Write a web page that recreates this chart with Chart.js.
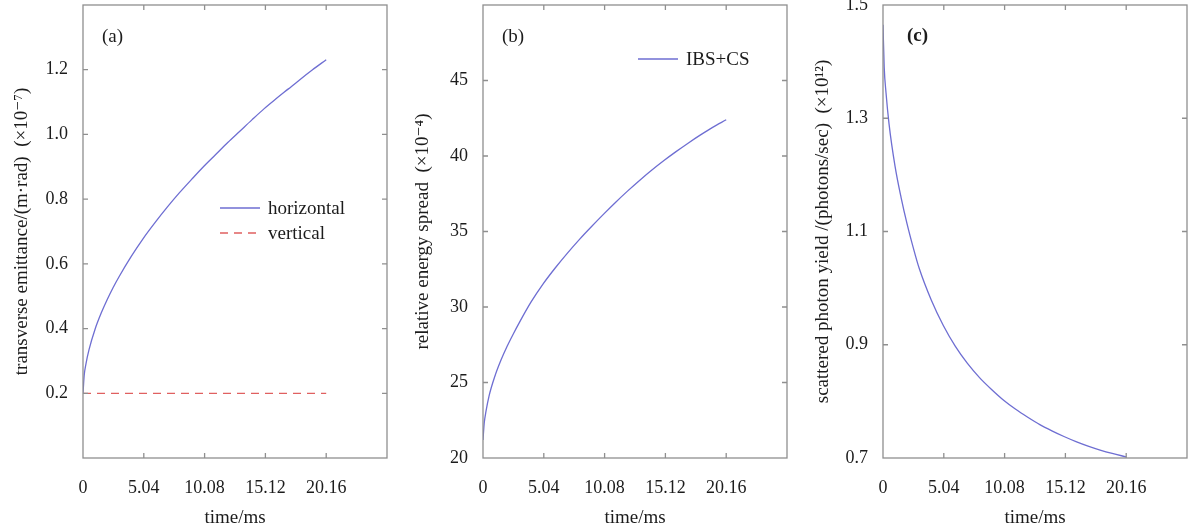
<!DOCTYPE html>
<html>
<head>
<meta charset="utf-8">
<script src="https://cdn.jsdelivr.net/npm/chart.js@4.4.1/dist/chart.umd.min.js"></script>
<style>
  html, body { margin: 0; padding: 0; background: #fff; }
  #wrap { position: relative; width: 1190px; height: 531px; overflow: hidden; }
  canvas { position: absolute; top: 0; }
</style>
</head>
<body>
<div id="wrap">
  <canvas id="chartA" width="400" height="531" style="left:0px"></canvas>
  <canvas id="chartB" width="400" height="531" style="left:400px"></canvas>
  <canvas id="chartC" width="390" height="531" style="left:800px"></canvas>
</div>
<script>
// time axis (ms) shared by the curves
const timeMs = [0, 0.1, 0.25, 0.5, 1, 1.5, 2, 2.5, 3, 4, 5, 6, 7, 8, 9, 10, 11, 12, 13, 14, 15, 16, 17, 18, 19, 20.16];

// (a) transverse emittance, x1e-7 m.rad
const horizontalEmit = [0.200, 0.256, 0.292, 0.335, 0.398, 0.447, 0.489, 0.527, 0.561, 0.623, 0.679, 0.729, 0.776, 0.820, 0.861, 0.901, 0.938, 0.975, 1.010, 1.045, 1.079, 1.110, 1.140, 1.170, 1.199, 1.231];
const verticalTime = [0, 20.16];
const verticalEmit = [0.2, 0.2];

// (b) relative energy spread, x1e-4
const energySpread = [21.2, 22.3, 23.1, 24.1, 25.45, 26.5, 27.4, 28.2, 28.95, 30.35, 31.55, 32.6, 33.57, 34.48, 35.33, 36.15, 36.94, 37.69, 38.4, 39.07, 39.7, 40.29, 40.85, 41.38, 41.88, 42.4];

// (c) scattered photon yield, x1e12 photons/sec
const photonYield = [1.465, 1.39, 1.345, 1.290, 1.215, 1.160, 1.113, 1.072, 1.035, 0.979, 0.934, 0.897, 0.867, 0.842, 0.821, 0.802, 0.786, 0.772, 0.759, 0.748, 0.738, 0.729, 0.721, 0.714, 0.708, 0.702];

// ticks
const xTicks = [0, 5.04, 10.08, 15.12, 20.16, 25.2];
const xTickLabels = ['0', '5.04', '10.08', '15.12', '20.16', ''];
const emitTicks = [0, 0.2, 0.4, 0.6, 0.8, 1.0, 1.2, 1.4];
const emitTickLabels = ['', '0.2', '0.4', '0.6', '0.8', '1.0', '1.2', ''];
const spreadTicks = [20, 25, 30, 35, 40, 45, 50];
const spreadTickLabels = ['20', '25', '30', '35', '40', '45', ''];
const yieldTicks = [0.7, 0.9, 1.1, 1.3, 1.5];
const yieldTickLabels = ['0.7', '0.9', '1.1', '1.3', '1.5'];

const SERIF = '"Liberation Serif", "DejaVu Serif", serif';
const TEXT = '#1c1c1c';
const FRAME = '#8f8f8f';
const BLUE = '#6e6ed2';
const RED = '#e06060';

const pts = (xs, ys) => xs.map((x, i) => ({ x: x, y: ys[i] }));

// frame, inward ticks, panel tag and legend
const framePlugin = {
  id: 'frame',
  afterDatasetsDraw(chart, args, opts) {
    const { ctx, chartArea: a, scales } = chart;
    ctx.save();
    ctx.strokeStyle = FRAME;
    ctx.lineWidth = 1.3;
    ctx.strokeRect(a.left, a.top, a.right - a.left, a.bottom - a.top);
    const len = 5;
    ctx.beginPath();
    scales.x.ticks.forEach(t => {
      const px = scales.x.getPixelForValue(t.value);
      if (px <= a.left + 2 || px >= a.right - 2) return;
      ctx.moveTo(px, a.bottom); ctx.lineTo(px, a.bottom - len);
      ctx.moveTo(px, a.top); ctx.lineTo(px, a.top + len);
    });
    scales.y.ticks.forEach(t => {
      const py = scales.y.getPixelForValue(t.value);
      if (py <= a.top + 2 || py >= a.bottom - 2) return;
      ctx.moveTo(a.left, py); ctx.lineTo(a.left + len, py);
      ctx.moveTo(a.right, py); ctx.lineTo(a.right - len, py);
    });
    ctx.stroke();

    ctx.fillStyle = TEXT;
    ctx.textBaseline = 'middle';
    ctx.textAlign = 'left';
    ctx.font = (opts.tagBold ? 'bold ' : '') + '19px ' + SERIF;
    ctx.fillText(opts.tag, a.left + opts.tagX, a.top + opts.tagY);

    if (opts.legend) {
      const lg = opts.legend;
      ctx.font = '19px ' + SERIF;
      chart.data.datasets.forEach((ds, i) => {
        const y = a.top + lg.y + i * lg.gap;
        ctx.strokeStyle = ds.borderColor;
        ctx.lineWidth = ds.borderWidth;
        ctx.setLineDash(ds.borderDash || []);
        ctx.beginPath();
        ctx.moveTo(a.left + lg.x, y);
        ctx.lineTo(a.left + lg.x + 40, y);
        ctx.stroke();
        ctx.setLineDash([]);
        ctx.fillText(ds.label, a.left + lg.x + 48, y + 1);
      });
    }
    ctx.restore();
  }
};

function makeChart(id, datasets, y, rightPad, frameOpts) {
  return new Chart(document.getElementById(id), {
    type: 'scatter',
    data: { datasets: datasets },
    plugins: [framePlugin],
    options: {
      responsive: false,
      animation: false,
      layout: { padding: { left: 0, right: rightPad, top: 5, bottom: 0 } },
      plugins: {
        legend: { display: false },
        tooltip: { enabled: false },
        frame: frameOpts
      },
      scales: {
        x: {
          type: 'linear',
          min: 0,
          max: 25.2,
          afterBuildTicks: s => { s.ticks = xTicks.map(v => ({ value: v })); },
          afterFit: s => { s.height = 73; s.paddingLeft = 0; s.paddingRight = 0; },
          grid: { display: false, drawTicks: false },
          border: { display: false },
          ticks: {
            padding: 19,
            color: TEXT,
            font: { family: SERIF, size: 18 },
            maxRotation: 0,
            autoSkip: false,
            callback: (v, i) => xTickLabels[i]
          },
          title: {
            display: true,
            text: 'time/ms',
            color: TEXT,
            font: { family: SERIF, size: 19 },
            padding: { top: 0, bottom: 2 }
          }
        },
        y: {
          type: 'linear',
          min: y.ticks[0],
          max: y.ticks[y.ticks.length - 1],
          afterBuildTicks: s => { s.ticks = y.ticks.map(v => ({ value: v })); },
          afterFit: s => { s.width = 83; s.paddingTop = 0; s.paddingBottom = 0; },
          grid: { display: false, drawTicks: false },
          border: { display: false },
          ticks: {
            padding: 15,
            color: TEXT,
            font: { family: SERIF, size: 18 },
            autoSkip: false,
            callback: (v, i) => y.labels[i]
          },
          title: {
            display: true,
            text: y.title,
            color: TEXT,
            font: { family: SERIF, size: 19 },
            padding: { top: y.titlePad, bottom: 0 }
          }
        }
      }
    }
  });
}

const lineStyle = {
  showLine: true,
  pointRadius: 0,
  borderWidth: 1.3,
  cubicInterpolationMode: 'monotone',
  fill: false
};

makeChart('chartA', [
  Object.assign({ label: 'horizontal', data: pts(timeMs, horizontalEmit), borderColor: BLUE }, lineStyle),
  Object.assign({ label: 'vertical', data: pts(verticalTime, verticalEmit), borderColor: RED, borderDash: [8, 6] }, lineStyle)
], {
  ticks: emitTicks, labels: emitTickLabels, titlePad: 11,
  title: 'transverse emittance/(m\u00b7rad)  (\u00d710\u207b\u2077)'
}, 13, { tag: '(a)', tagX: 19, tagY: 32, legend: { x: 137, y: 203, gap: 25 } });

makeChart('chartB', [
  Object.assign({ label: 'IBS+CS', data: pts(timeMs, energySpread), borderColor: BLUE }, lineStyle)
], {
  ticks: spreadTicks, labels: spreadTickLabels, titlePad: 12,
  title: 'relative energy spread  (\u00d710\u207b\u2074)'
}, 13, { tag: '(b)', tagX: 19, tagY: 32, legend: { x: 155, y: 54, gap: 25 } });

makeChart('chartC', [
  Object.assign({ label: 'yield', data: pts(timeMs, photonYield), borderColor: BLUE }, lineStyle)
], {
  ticks: yieldTicks, labels: yieldTickLabels, titlePad: 12,
  title: 'scattered photon yield /(photons/sec)  (\u00d710\u00b9\u00b2)'
}, 3, { tag: '(c)', tagBold: true, tagX: 24, tagY: 31 });
</script>
</body>
</html>
